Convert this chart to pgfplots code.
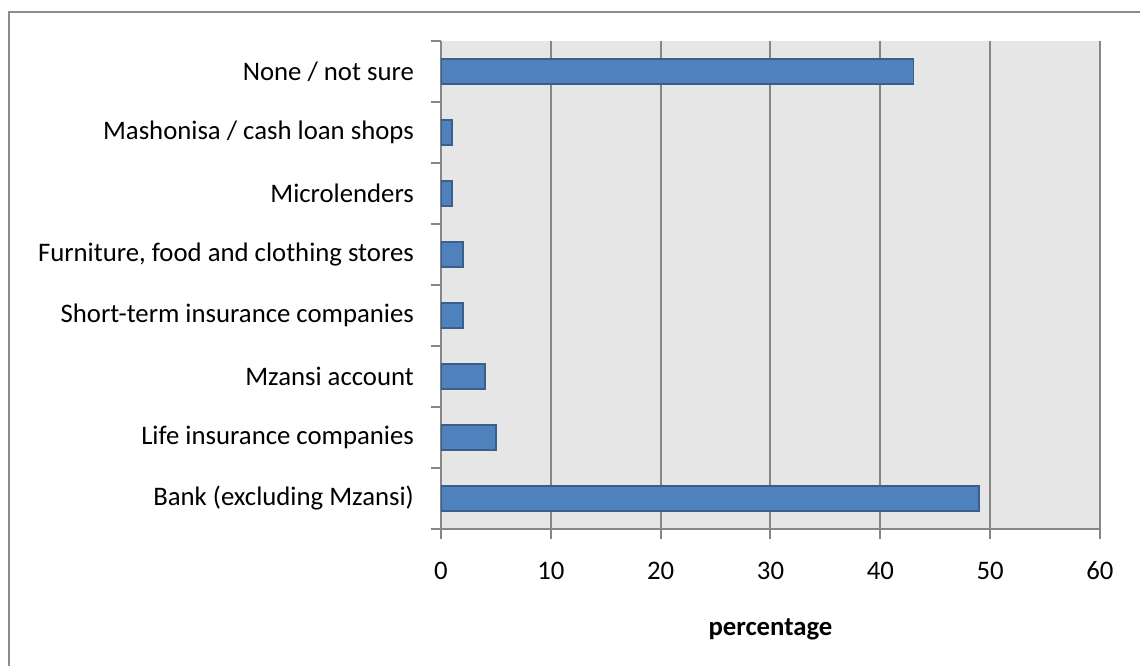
\documentclass[border=0pt]{standalone}
\usepackage{pgfplots}
\pgfplotsset{compat=1.18}
\usepackage{fontspec}
\setmainfont{Carlito}
\definecolor{barfill}{HTML}{4F81BD}
\definecolor{bardraw}{HTML}{3A5F8B}
\definecolor{bgcol}{HTML}{E6E6E6}
\definecolor{linecol}{HTML}{868686}
\definecolor{bordercol}{HTML}{8C8C8C}
\begin{document}
\begin{tikzpicture}
\useasboundingbox (0,0) rectangle (456pt,266pt);
\draw[bordercol, line width=0.9pt] (3.6pt,-2pt) -- (3.6pt,261.2pt) -- (460pt,261.2pt);
\begin{axis}[
  at={(176.4pt,54.4pt)}, anchor=south west,
  scale only axis, width=263.6pt, height=195.2pt,
  xbar, bar width=10pt,
  xmin=0, xmax=60, ymin=-0.5, ymax=7.5,
  axis x line*=bottom, axis y line*=left,
  axis line style={linecol, line width=0.8pt, -},
  axis background/.style={fill=bgcol},
  xtick={0,10,...,60},
  minor xtick={0,10,...,60},
  ytick={0,...,7},
  minor ytick={-0.5,0.5,...,7.5},
  yticklabels={Bank (excluding Mzansi),Life insurance companies,Mzansi account,Short-term insurance companies,{Furniture, food and clothing stores},Microlenders,Mashonisa / cash loan shops,None / not sure},
  major tick length=0pt,
  minor tick length=4pt,
  tick align=outside,
  tick style={linecol, line width=0.8pt},
  minor tick style={linecol, line width=0.8pt},
  xmajorgrids,
  major grid style={linecol, line width=0.8pt},
  /pgf/number format/assume math mode=true,
  tick label style={font=\fontsize{10.7}{13}\selectfont, text=black},
  xticklabel style={anchor=north, yshift=-9.6pt},
  yticklabel style={anchor=east, xshift=-7.3pt},
  xlabel={\textbf{percentage}},
  xlabel style={font=\fontsize{10.7}{13}\selectfont, at={(axis description cs:0.5,0)}, anchor=base, yshift=-42.4pt},
]
\addplot[fill=barfill, draw=bardraw, line width=0.6pt] coordinates {
(49,0) (5,1) (4,2) (2,3) (2,4) (1,5) (1,6) (43,7)
};
\end{axis}
\end{tikzpicture}
\end{document}
